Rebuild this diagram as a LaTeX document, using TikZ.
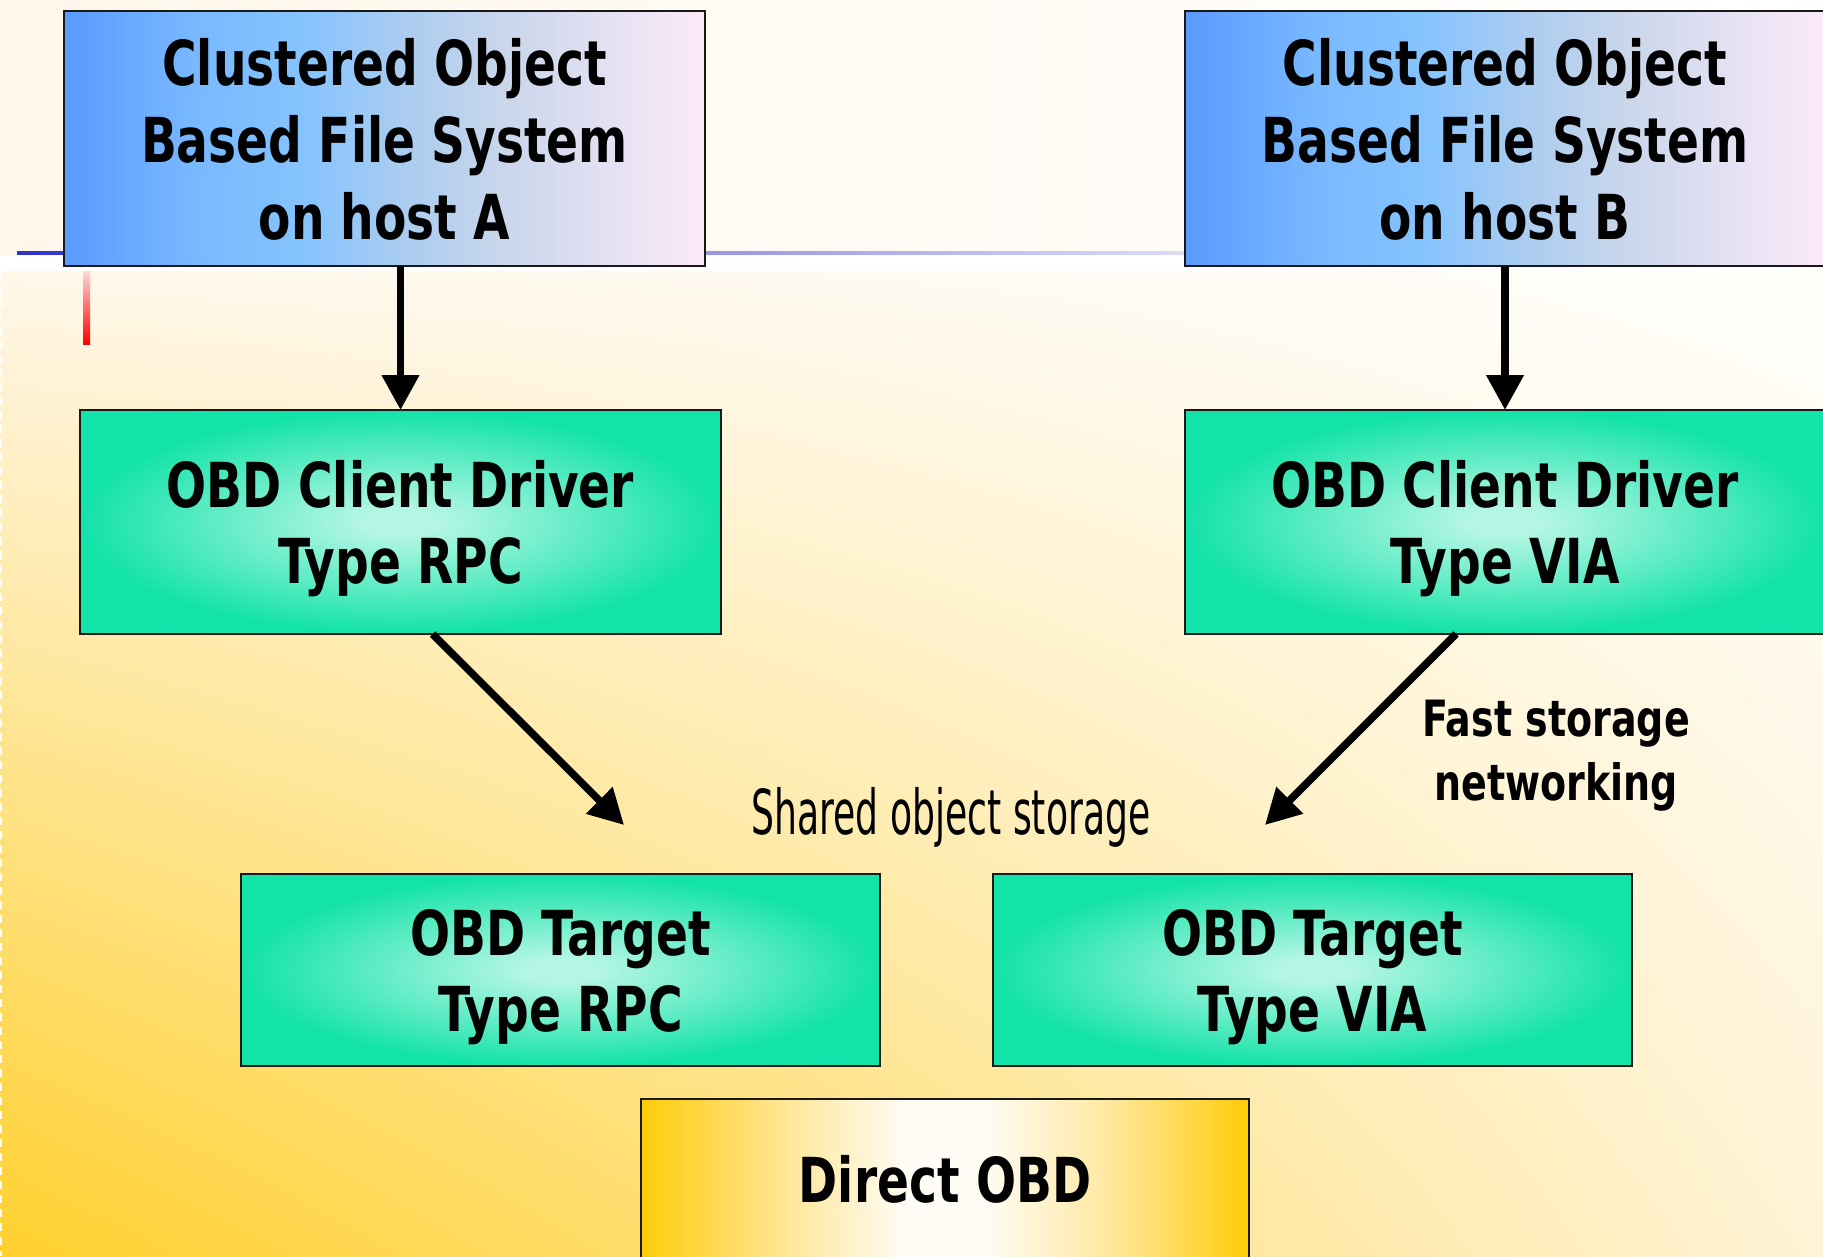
\documentclass[tikz,border=0pt]{standalone}
\usepackage{fontspec}
\setmainfont{DejaVu Sans}
\newfontfamily\labelbold{DejaVu Sans}[FakeStretch=0.76]
\newfontfamily\labelthin{DejaVu Sans}[FakeStretch=0.583]
\usetikzlibrary{arrows.meta,shadings,calc}

% palette
\definecolor{glowin}{HTML}{B4F6E4}
\definecolor{glowout}{HTML}{12E3A8}
\definecolor{skyA}{HTML}{5A9AFF}
\definecolor{skyB}{HTML}{78B8FF}
\definecolor{skyC}{HTML}{86C4FE}
\definecolor{skyD}{HTML}{A8CCF0}
\definecolor{skyE}{HTML}{C8D6EC}
\definecolor{skyF}{HTML}{FCEAF8}
\definecolor{gold}{HTML}{FFCC08}
\definecolor{goldpale}{HTML}{FFE9A4}
\definecolor{goldwhite}{HTML}{FFFCF6}
\definecolor{bgUL}{HTML}{FFF7EA}
\definecolor{bgUR}{HTML}{FFFEFB}
\definecolor{bgLL}{HTML}{FFD02E}
\definecolor{bgLR}{HTML}{FFF3D6}
\definecolor{ruleL}{HTML}{3232C8}
\definecolor{ruleR}{HTML}{DCDCF6}
\definecolor{markTop}{HTML}{FFD8D8}
\definecolor{markBot}{HTML}{FF0000}

% box fills
\pgfdeclareradialshading{greenglow}{\pgfpoint{0bp}{0bp}}{%
  color(0bp)=(glowin); color(3bp)=(glowin); color(25bp)=(glowout); color(50bp)=(glowout)}
\pgfdeclarehorizontalshading{skyfade}{100bp}{%
  color(0bp)=(skyA); color(25bp)=(skyA); color(35bp)=(skyB); color(44bp)=(skyC);
  color(51bp)=(skyD); color(59bp)=(skyE); color(75bp)=(skyF); color(100bp)=(skyF)}
\pgfdeclarehorizontalshading{goldfade}{100bp}{%
  color(0bp)=(gold); color(25bp)=(gold); color(38bp)=(goldpale); color(47bp)=(goldwhite);
  color(53bp)=(goldwhite); color(63bp)=(goldpale); color(75bp)=(gold); color(100bp)=(gold)}

\tikzset{
  box/.style={draw=black!90, line width=2pt, inner sep=0pt, outer sep=0pt,
    anchor=north west, align=center, text depth=0pt,
    font=\labelbold\bfseries\fontsize{62}{77}\selectfont},
  hostbox/.style={box, shade, shading=skyfade},
  glowbox/.style={box, shade, shading=greenglow,
    font=\labelbold\bfseries\fontsize{62}{76}\selectfont},
  goldbox/.style={box, shade, shading=goldfade},
  flow/.style={line width=7.5pt, -{Triangle[length=35pt,width=36pt]}},
}

\begin{document}
\begin{tikzpicture}[x=1pt, y=-1pt]
\useasboundingbox (0,0) rectangle (1823,1256);

% backdrop
\fill[white] (0,0) rectangle (1823,1256);
\shade[left color=bgUL, right color=white] (0,0) rectangle (1823,255);
\shade[lower left=bgLL, lower right=bgLR, upper left=bgUL, upper right=bgUR]
  (0,271) rectangle (1823,1256);
\draw[white, line width=1.5pt, dash pattern=on 8pt off 6pt] (0.75,271) -- (0.75,1256);

% title rule and marker
\shade[left color=ruleL, right color=ruleR] (17,251) rectangle (1185,254.5);
\shade[top color=markTop, bottom color=markBot] (83,271) rectangle (90,344);

% boxes
\node[hostbox, minimum width=641pt, minimum height=255pt] (hostA) at (64,11)
  {Clustered Object\\Based File System\\on host A};
\node[hostbox, minimum width=640pt, minimum height=255pt] (hostB) at (1185,11)
  {Clustered Object\\Based File System\\on host B};
\node[glowbox, minimum width=641pt, minimum height=224pt] (cliRPC) at (80,410)
  {OBD Client Driver\\Type RPC};
\node[glowbox, minimum width=640pt, minimum height=224pt] (cliVIA) at (1185,410)
  {OBD Client Driver\\Type VIA};
\node[glowbox, minimum width=639pt, minimum height=192pt] (tgtRPC) at (241,874)
  {OBD Target\\Type RPC};
\node[glowbox, minimum width=639pt, minimum height=192pt] (tgtVIA) at (993,874)
  {OBD Target\\Type VIA};
\node[goldbox, minimum width=608pt, minimum height=160pt] (direct) at (641,1099)
  {Direct OBD};

% labels
\node[font=\labelthin\fontsize{62}{74}\selectfont, anchor=base, inner sep=0pt]
  (shared) at (951,834) {Shared object storage};
\node[font=\labelbold\bfseries\fontsize{50}{64}\selectfont, align=center, text depth=0pt,
  inner sep=0pt] (fast) at (1556,750) {Fast storage\\networking};

% connectors
\coordinate (tipRPC) at (624,825);
\coordinate (tipVIA) at (1265,825);
\draw[flow] (hostA.south -| cliRPC.north) -- (cliRPC.north);
\draw[flow] (hostB.south -| cliVIA.north) -- (cliVIA.north);
\draw[flow] ($(cliRPC.south)+(32,0)$) -- (tipRPC);
\draw[flow] ($(cliVIA.south)+(-49,0)$) -- (tipVIA);
\end{tikzpicture}
\end{document}
